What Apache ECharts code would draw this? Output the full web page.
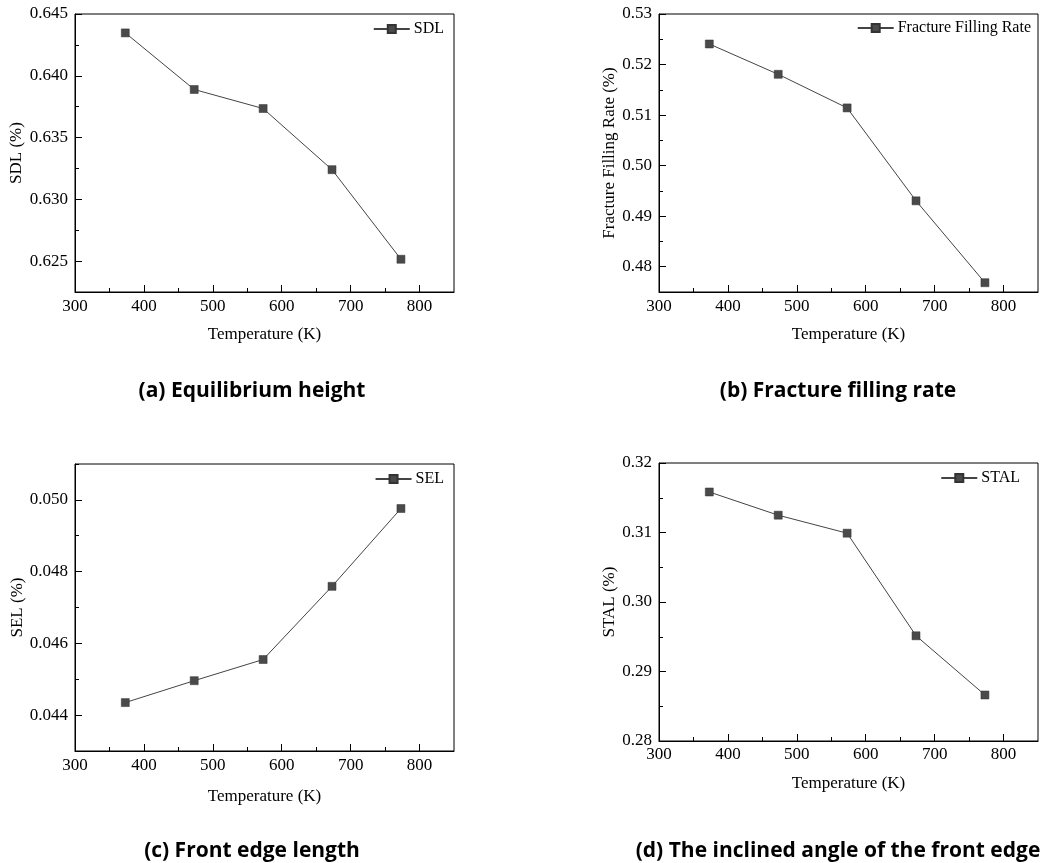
<!DOCTYPE html>
<html>
<head>
<meta charset="utf-8">
<script src="https://cdn.jsdelivr.net/npm/echarts@6/dist/echarts.min.js"></script>
<style>
html,body{margin:0;padding:0;background:#fff;}
#chart{width:1041px;height:863px;}
</style>
</head>
<body>
<div id="chart"></div>
<script>
// Data
var temperatures = [373, 473, 573, 673, 773];
var sdlValues = [0.64347, 0.63889, 0.63735, 0.6324, 0.62515];
var ffrValues = [0.52407, 0.51807, 0.51142, 0.49304, 0.47684];
var selValues = [0.04435, 0.04496, 0.04555, 0.04759, 0.04976];
var stalValues = [0.31583, 0.31249, 0.3099, 0.29514, 0.28662];
var seriesNames = ['SDL', 'Fracture Filling Rate', 'SEL', 'STAL'];
var yTitles = ['SDL (%)', 'Fracture Filling Rate (%)', 'SEL (%)', 'STAL (%)'];
var captions = ['(a) Equilibrium height', '(b) Fracture filling rate', '(c) Front edge length', '(d) The inclined angle of the front edge'];
var xTitle = 'Temperature (K)';

// Tick labels / tick positions
var xMajorTicks = [300, 400, 500, 600, 700, 800];
var xMinorTicks = [350, 450, 550, 650, 750];
var sdlMajorTicks = [0.625, 0.630, 0.635, 0.640, 0.645];
var sdlMinorTicks = [0.6225, 0.6275, 0.6325, 0.6375, 0.6425];
var ffrMajorTicks = [0.48, 0.49, 0.50, 0.51, 0.52, 0.53];
var ffrMinorTicks = [0.475, 0.485, 0.495, 0.505, 0.515, 0.525];
var selMajorTicks = [0.044, 0.046, 0.048, 0.050];
var selMinorTicks = [0.043, 0.045, 0.047, 0.049, 0.051];
var stalMajorTicks = [0.28, 0.29, 0.30, 0.31, 0.32];
var stalMinorTicks = [0.285, 0.295, 0.305, 0.315];

var serif = 'Liberation Serif';
var chart = echarts.init(document.getElementById('chart'), null, {renderer: 'canvas'});

function pairs(vals) { return temperatures.map(function (t, i) { return [t, vals[i]]; }); }

var grids = [
  {left: 75, top: 14, width: 379, height: 278},
  {left: 659, top: 14, width: 379, height: 278},
  {left: 75, top: 464, width: 379, height: 287},
  {left: 659, top: 463, width: 379, height: 278}
];
var yCfg = [
  {min: 0.6225, max: 0.645, major: sdlMajorTicks, minor: sdlMinorTicks, dec: 3, gap: 49.5},
  {min: 0.475, max: 0.53, major: ffrMajorTicks, minor: ffrMinorTicks, dec: 2, gap: 41},
  {min: 0.043, max: 0.051, major: selMajorTicks, minor: selMinorTicks, dec: 3, gap: 48.5},
  {min: 0.28, max: 0.32, major: stalMajorTicks, minor: stalMinorTicks, dec: 2, gap: 41}
];
var xCfg = [
  {gap: 34, margin: 6},
  {gap: 34, margin: 6},
  {gap: 37, margin: 6.5},
  {gap: 34, margin: 5.5}
];
var legendPos = [
  {right: 597, top: 21},
  {right: 10, top: 20},
  {right: 597, top: 471},
  {right: 21, top: 470}
];
var captionPos = [
  {x: 252, y: 391},
  {x: 838, y: 391},
  {x: 252, y: 851},
  {x: 838, y: 851}
];
var allValues = [sdlValues, ffrValues, selValues, stalValues];

var xAxes = [], yAxes = [];
grids.forEach(function (g, i) {
  xAxes.push({
    gridIndex: i, type: 'value', min: 300, max: 850, position: 'bottom',
    name: xTitle, nameLocation: 'middle', nameGap: xCfg[i].gap,
    nameTextStyle: {fontFamily: serif, fontSize: 17, color: '#000'},
    axisLine: {show: true, lineStyle: {color: '#000', width: 1}},
    axisTick: {show: true, inside: true, length: 7, lineStyle: {color: '#000'}, customValues: xMajorTicks},
    axisLabel: {fontFamily: serif, fontSize: 17, color: '#000', margin: xCfg[i].margin, customValues: xMajorTicks,
      formatter: function (v) { return String(Math.round(v)); }},
    splitLine: {show: false}
  });
});
grids.forEach(function (g, i) {
  xAxes.push({
    gridIndex: i, type: 'value', min: 300, max: 850, position: 'bottom',
    axisLine: {show: false},
    axisTick: {show: true, inside: true, length: 4, lineStyle: {color: '#000'}, customValues: xMinorTicks},
    axisLabel: {show: false},
    splitLine: {show: false}
  });
});
grids.forEach(function (g, i) {
  var c = yCfg[i];
  yAxes.push({
    gridIndex: i, type: 'value', min: c.min, max: c.max, position: 'left',
    name: yTitles[i], nameLocation: 'middle', nameGap: c.gap,
    nameTextStyle: {fontFamily: serif, fontSize: 17, color: '#000'},
    axisLine: {show: true, lineStyle: {color: '#000', width: 1}},
    axisTick: {show: true, inside: true, length: 7, lineStyle: {color: '#000'}, customValues: c.major},
    axisLabel: {fontFamily: serif, fontSize: 17, color: '#000', margin: 7, customValues: c.major,
      formatter: (function (d) { return function (v) { return v.toFixed(d); }; })(c.dec)},
    splitLine: {show: false}
  });
});
grids.forEach(function (g, i) {
  var c = yCfg[i];
  yAxes.push({
    gridIndex: i, type: 'value', min: c.min, max: c.max, position: 'left',
    axisLine: {show: false},
    axisTick: {show: true, inside: true, length: 4, lineStyle: {color: '#000'}, customValues: c.minor},
    axisLabel: {show: false},
    splitLine: {show: false}
  });
});

var option = {
  backgroundColor: '#fff',
  animation: false,
  grid: grids.map(function (g) { return Object.assign({show: true, borderColor: '#000', borderWidth: 1, backgroundColor: 'transparent'}, g); }),
  xAxis: xAxes,
  yAxis: yAxes,
  legend: grids.map(function (g, i) {
    return Object.assign({
      data: [seriesNames[i]], orient: 'horizontal', itemWidth: 36, itemHeight: 10, itemGap: 4,
      textStyle: {fontFamily: serif, fontSize: 16, color: '#000', padding: [0, 0, 0, -1]},
      padding: 0, selectedMode: false
    }, legendPos[i]);
  }),
  graphic: captions.map(function (t, i) {
    return {
      type: 'text', x: captionPos[i].x, y: captionPos[i].y, silent: true,
      style: {text: t, font: 'bold 21px "Open Sans"', fill: '#000', textAlign: 'center', textVerticalAlign: 'middle'}
    };
  }),
  series: allValues.map(function (vals, i) {
    return {
      name: seriesNames[i], type: 'line', xAxisIndex: i, yAxisIndex: i,
      data: pairs(vals), symbol: 'rect', symbolSize: 8,
      lineStyle: {color: '#444', width: 1},
      itemStyle: {color: '#4a4a4a', borderColor: '#333', borderWidth: 0.5}
    };
  })
};
chart.setOption(option);
</script>
</body>
</html>
